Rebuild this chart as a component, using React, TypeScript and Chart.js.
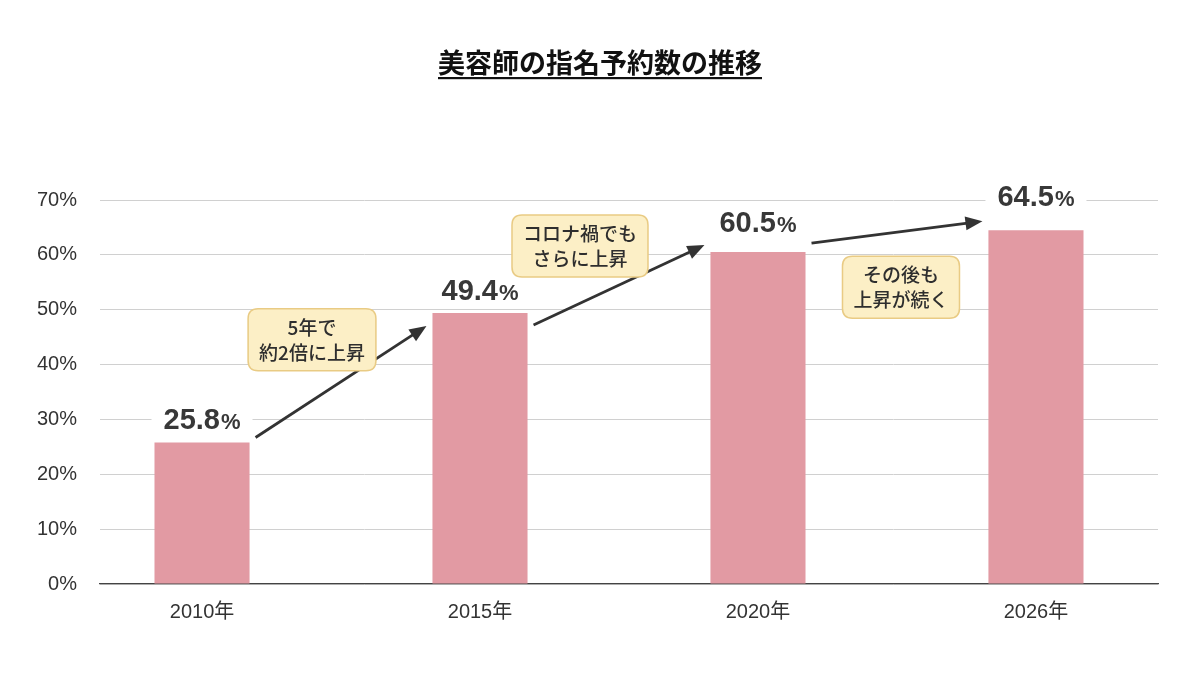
import React, { useEffect, useRef } from "react";
import { Chart, registerables } from "chart.js";

Chart.register(...registerables);

const TITLE = "美容師の指名予約数の推移";
const CATEGORIES = ["2010年", "2015年", "2020年", "2026年"];
const VALUES = [25.8, 49.4, 60.5, 64.5];
const Y_TICKS = [0, 10, 20, 30, 40, 50, 60, 70];
const NOTES = [
  ["5年で", "約2倍に上昇"],
  ["コロナ禍でも", "さらに上昇"],
  ["その後も", "上昇が続く"],
];

const FONT = '"Liberation Sans", "Noto Sans CJK JP", sans-serif';
const JP_FONT = '"Noto Sans CJK JP", "Liberation Sans", sans-serif';

// styling/placement for overlay annotations
const ARROW_OFFSETS = [
  { dy0: -5, dy1: 13 },
  { dy0: 12, dy1: -7 },
  { dy0: -9, dy1: -9 },
];
const NOTE_OFFSETS = [
  { dx: -29, dy: -42 },
  { dx: -39, dy: -39 },
  { dx: 4, dy: 55 },
];
const LABEL_GAPS = [13, 13, 20, 24];

function roundRect(ctx: CanvasRenderingContext2D, x: number, y: number, w: number, h: number, r: number) {
  ctx.beginPath();
  ctx.moveTo(x + r, y);
  ctx.lineTo(x + w - r, y);
  ctx.quadraticCurveTo(x + w, y, x + w, y + r);
  ctx.lineTo(x + w, y + h - r);
  ctx.quadraticCurveTo(x + w, y + h, x + w - r, y + h);
  ctx.lineTo(x + r, y + h);
  ctx.quadraticCurveTo(x, y + h, x, y + h - r);
  ctx.lineTo(x, y + r);
  ctx.quadraticCurveTo(x, y, x + r, y);
  ctx.closePath();
}

const overlayPlugin = {
  id: "overlay",
  afterDraw(chart: any) {
    const ctx: CanvasRenderingContext2D = chart.ctx;
    const meta = chart.getDatasetMeta(0);
    const bars = meta.data.map((b: any) => b.getProps(["x", "y", "width", "base"], true));

    ctx.save();
    // Title with underline
    ctx.font = `bold 27px ${JP_FONT}`;
    ctx.fillStyle = "#111";
    ctx.textAlign = "center";
    ctx.textBaseline = "middle";
    const cx = chart.width / 2;
    ctx.fillText(TITLE, cx, 63);
    const tw = ctx.measureText(TITLE).width;
    ctx.fillRect(cx - tw / 2, 77, tw, 2.2);

    // Value labels (white backing breaks the grid lines)
    bars.forEach((b: any, i: number) => {
      const num = VALUES[i].toFixed(1);
      ctx.font = `bold 29px ${FONT}`;
      const w1 = ctx.measureText(num).width;
      ctx.font = `bold 22px ${FONT}`;
      const w2 = ctx.measureText("%").width;
      const total = w1 + w2 + 1;
      const sx = b.x - total / 2;
      const by = b.y - LABEL_GAPS[i];
      ctx.fillStyle = "#fff";
      ctx.fillRect(sx - 12, by - 23, total + 24, 27);
      ctx.fillStyle = "#383838";
      ctx.textAlign = "left";
      ctx.textBaseline = "alphabetic";
      ctx.font = `bold 29px ${FONT}`;
      ctx.fillText(num, sx, by);
      ctx.font = `bold 22px ${FONT}`;
      ctx.fillText("%", sx + w1 + 1, by);
    });

    // Arrows
    const mids: { x: number; y: number }[] = [];
    for (let i = 0; i < bars.length - 1; i++) {
      const a = bars[i];
      const b = bars[i + 1];
      const off = ARROW_OFFSETS[i];
      const x0 = a.x + a.width / 2 + 6;
      const y0 = a.y + off.dy0;
      const x1 = b.x - b.width / 2 - 6;
      const y1 = b.y + off.dy1;
      mids.push({ x: (x0 + x1) / 2, y: (y0 + y1) / 2 });
      const ang = Math.atan2(y1 - y0, x1 - x0);
      const hl = 17;
      const hw = 7;
      const lx = x1 - Math.cos(ang) * (hl - 2);
      const ly = y1 - Math.sin(ang) * (hl - 2);
      ctx.strokeStyle = "#333";
      ctx.lineWidth = 2.8;
      ctx.beginPath();
      ctx.moveTo(x0, y0);
      ctx.lineTo(lx, ly);
      ctx.stroke();
      ctx.fillStyle = "#333";
      ctx.beginPath();
      ctx.moveTo(x1, y1);
      ctx.lineTo(x1 - Math.cos(ang) * hl - Math.sin(ang) * hw, y1 - Math.sin(ang) * hl + Math.cos(ang) * hw);
      ctx.lineTo(x1 - Math.cos(ang) * hl + Math.sin(ang) * hw, y1 - Math.sin(ang) * hl - Math.cos(ang) * hw);
      ctx.closePath();
      ctx.fill();
    }

    // Note boxes
    ctx.font = `500 19px ${JP_FONT}`;
    NOTES.forEach((lines, i) => {
      const m = mids[i];
      if (!m) return;
      const o = NOTE_OFFSETS[i];
      const ncx = m.x + o.dx;
      const ncy = m.y + o.dy;
      const w = Math.max(...lines.map((l) => ctx.measureText(l).width)) + 22;
      const h = 62;
      roundRect(ctx, ncx - w / 2, ncy - h / 2, w, h, 10);
      ctx.fillStyle = "#FCEFC6";
      ctx.fill();
      ctx.strokeStyle = "#E9CB84";
      ctx.lineWidth = 1.5;
      ctx.stroke();
      ctx.fillStyle = "#2e2e2e";
      ctx.textAlign = "center";
      ctx.textBaseline = "middle";
      ctx.fillText(lines[0], ncx, ncy - 12);
      ctx.fillText(lines[1], ncx, ncy + 13);
    });
    ctx.restore();
  },
};

export default function App() {
  const ref = useRef<HTMLCanvasElement | null>(null);
  useEffect(() => {
    if (!ref.current) return;
    const chart = new Chart(ref.current, {
      type: "bar",
      data: {
        datasets: [
          {
            data: VALUES.map((v, i) => ({ x: i, y: v })),
            backgroundColor: "#E29AA3",
            borderWidth: 0,
            categoryPercentage: 0.38,
            barPercentage: 0.9,
          },
        ],
      },
      options: {
        animation: false,
        responsive: false,
        layout: { padding: { top: 200, right: 42, bottom: 76, left: 0 } },
        plugins: {
          legend: { display: false },
          title: { display: false },
          tooltip: { enabled: false },
        },
        scales: {
          x: {
            type: "linear",
            min: -0.367,
            max: 3.439,
            offset: false,
            grid: { display: false },
            border: { display: true, color: "#444", width: 1.2 },
            afterBuildTicks: (s: any) => {
              s.ticks = CATEGORIES.map((_, i) => ({ value: i }));
            },
            afterFit: (s: any) => {
              s.height = 40;
            },
            ticks: {
              autoSkip: false,
              maxRotation: 0,
              padding: 8,
              color: "#333",
              font: { family: FONT, size: 20 },
              callback: (v: any) => CATEGORIES[v] ?? "",
            },
          },
          y: {
            min: 0,
            max: 70,
            afterBuildTicks: (s: any) => {
              s.ticks = Y_TICKS.map((v) => ({ value: v }));
            },
            afterFit: (s: any) => {
              s.width = 100;
            },
            grid: { color: "#d0d0d0", lineWidth: 1, drawTicks: false },
            border: { display: false },
            ticks: {
              padding: 23,
              color: "#333",
              font: { family: FONT, size: 20 },
              callback: (v: any) => `${v}%`,
            },
          },
        },
      },
      plugins: [overlayPlugin],
    });
    return () => chart.destroy();
  }, []);
  return (
    <div style={{ position: "fixed", left: 0, top: 0, width: 1200, height: 700, background: "#fff" }}>
      <canvas ref={ref} width={1200} height={700} />
    </div>
  );
}
